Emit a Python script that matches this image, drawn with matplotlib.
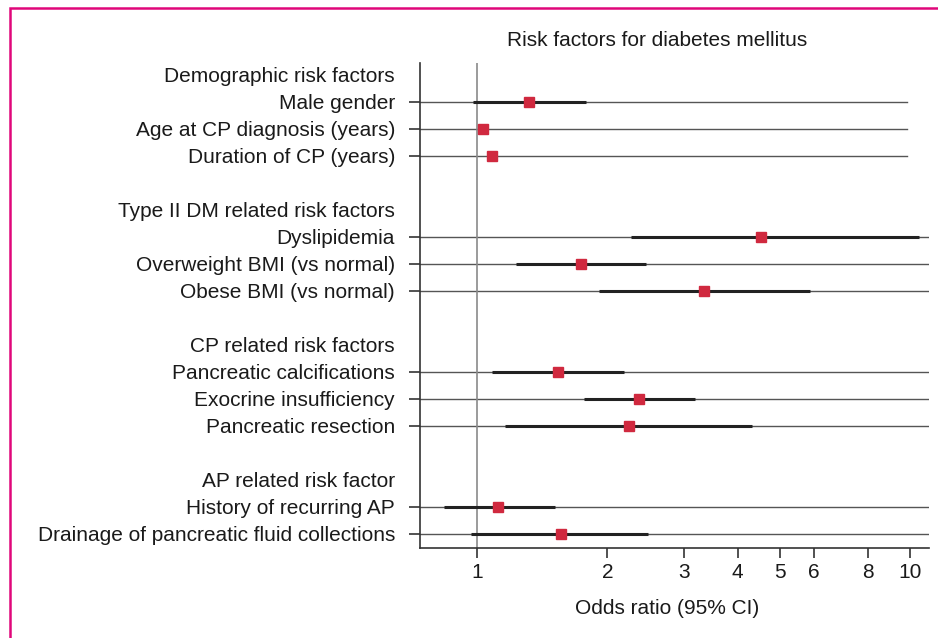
import numpy as np
import matplotlib.pyplot as plt
from matplotlib.patches import Rectangle

plt.rcParams['font.family'] = ['Liberation Sans', 'DejaVu Sans']

# rows top to bottom; None marks a header or blank row
labels = ['Demographic risk factors', 'Male gender', 'Age at CP diagnosis (years)',
          'Duration of CP (years)', '',
          'Type II DM related risk factors', 'Dyslipidemia', 'Overweight BMI (vs normal)',
          'Obese BMI (vs normal)', '',
          'CP related risk factors', 'Pancreatic calcifications', 'Exocrine insufficiency',
          'Pancreatic resection', '',
          'AP related risk factor', 'History of recurring AP',
          'Drainage of pancreatic fluid collections']
odds = [None, 1.32, 1.03, 1.085, None,
        None, 4.52, 1.74, 3.35, None,
        None, 1.54, 2.37, 2.24, None,
        None, 1.12, 1.56]
ci_low = [None, 0.98, 1.01, 1.06, None,
          None, 2.27, 1.23, 1.91, None,
          None, 1.08, 1.77, 1.16, None,
          None, 0.84, 0.97]
ci_high = [None, 1.78, 1.05, 1.11, None,
           None, 10.5, 2.45, 5.89, None,
           None, 2.19, 3.18, 4.32, None,
           None, 1.51, 2.48]
xticks = [1, 2, 3, 4, 5, 6, 8, 10]

fs = 15
txt = '#1a1a1a'

fig = plt.figure(figsize=(9.38, 6.38), dpi=100)
ax = fig.add_axes([0.4478, 0.1411, 0.5426, 0.7602])

rows = np.arange(len(labels))
item_rows = [i for i in rows if odds[i] is not None]

for n, i in enumerate(item_rows):
    xend = 0.957 if n < 3 else 1.0
    ax.axhline(i, xmin=0, xmax=xend, color='#555555', lw=1.0, zorder=1)
    ax.plot([ci_low[i], ci_high[i]], [i, i], color='#222222', lw=2.2,
            solid_capstyle='butt', zorder=2)
    ax.plot(odds[i], i, marker='s', ms=7.5, color='#d0293f', zorder=3)

ax.axvline(1, color='#8a8a8a', lw=1.2, zorder=1)

ax.set_xscale('log')
ax.set_xlim(0.738, 11.07)
ax.set_ylim(17.52, -0.44)
ax.set_xticks(xticks)
ax.set_xticklabels([str(t) for t in xticks])
ax.xaxis.set_minor_locator(plt.NullLocator())
ax.set_yticks(rows)
ax.set_yticklabels(labels)
for i, t in enumerate(ax.yaxis.get_major_ticks()):
    if odds[i] is None:
        t.tick1line.set_visible(False)

ax.tick_params(axis='y', direction='out', length=8, width=1.2, color='#333333',
               pad=10, labelsize=fs, labelcolor=txt)
ax.tick_params(axis='x', direction='out', length=7, width=1.2, color='#333333',
               pad=4, labelsize=fs, labelcolor=txt)

for s in ['top', 'right']:
    ax.spines[s].set_visible(False)
for s in ['left', 'bottom']:
    ax.spines[s].set_color('#333333')
    ax.spines[s].set_linewidth(1.2)

fig.text(667 / 938, 1 - 608 / 638, 'Odds ratio (95% CI)', fontsize=fs,
         ha='center', va='center', color=txt)
fig.text(657 / 938, 1 - 41 / 638, 'Risk factors for diabetes mellitus', fontsize=fs,
         ha='center', va='center', color=txt)

fig.patches.append(Rectangle((10 / 938, -0.1), 1.2, 1.1 - 8 / 638, fill=False,
                             edgecolor='#e0067a', lw=1.8, transform=fig.transFigure))

fig.savefig('out.png', dpi=100)
